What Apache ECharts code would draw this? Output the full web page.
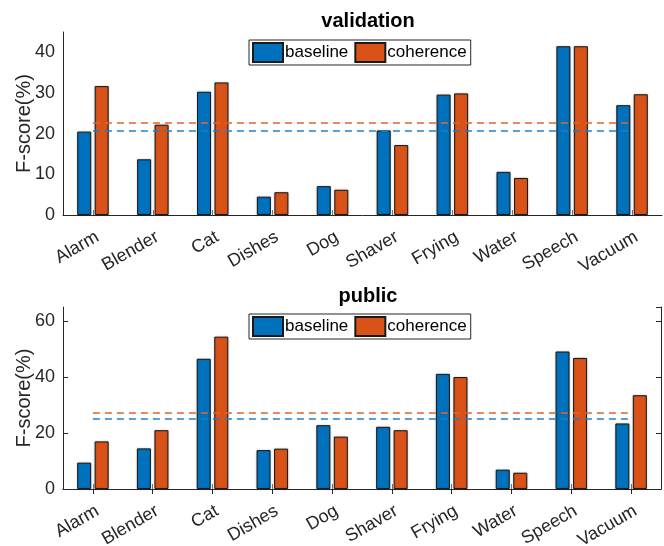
<!DOCTYPE html>
<html>
<head>
<meta charset="utf-8">
<script src="https://cdn.jsdelivr.net/npm/echarts@6/dist/echarts.min.js"></script>
<style>
  html, body { margin: 0; padding: 0; background: #fff; }
  #chart { width: 664px; height: 546px; }
</style>
</head>
<body>
<div id="chart"></div>
<script>
const CATEGORIES = ['Alarm', 'Blender', 'Cat', 'Dishes', 'Dog', 'Shaver', 'Frying', 'Water', 'Speech', 'Vacuum']
const SERIES_NAMES = ['baseline', 'coherence']

// validation panel
const VAL_BASELINE  = [20.5, 13.7, 30.3, 4.5, 7.1, 20.8, 29.6, 10.6, 41.5, 27.0]
const VAL_COHERENCE = [31.7, 22.2, 32.6, 5.6, 6.2, 17.2, 29.9, 9.1, 41.5, 29.7]
const VAL_MEAN      = [20.6, 22.6]   // dashed lines: baseline, coherence
const VAL_TICKS     = [0, 10, 20, 30, 40]

// public panel
const PUB_BASELINE  = [9.4, 14.5, 46.5, 13.9, 22.8, 22.2, 41.1, 6.9, 49.1, 23.4]
const PUB_COHERENCE = [17.0, 21.0, 54.4, 14.4, 18.7, 21.0, 40.0, 5.8, 46.8, 33.5]
const PUB_MEAN      = [25.1, 27.3]
const PUB_TICKS     = [0, 20, 40, 60]

const BLUE   = '#0072BD'
const ORANGE = '#D95319'
const INK    = '#262626'
const FONT   = '"Liberation Sans", Arial, sans-serif'

const chart = echarts.init(document.getElementById('chart'), null, { renderer: 'canvas' })

function barSeries(name, data, color, idx) {
  return {
    name, type: 'bar', data,
    xAxisIndex: idx === 0 ? 0 : 1, yAxisIndex: idx === 0 ? 0 : 1,
    barWidth: 14, barGap: '25%',
    itemStyle: { color, borderColor: '#1a1a1a', borderWidth: 1,
      shadowColor: 'rgba(0,0,0,0.25)', shadowBlur: 2 },
    animation: false,
  }
}

function meanSeries(value, color, idx) {
  return {
    type: 'line', data: [], z: 10,
    xAxisIndex: idx === 0 ? 0 : 1, yAxisIndex: idx === 0 ? 0 : 1,
    markLine: {
      silent: true, symbol: 'none', label: { show: false },
      lineStyle: { color, width: 1.6, type: [7, 5] },
      data: [[{ coord: [CATEGORIES[0], value] }, { coord: [CATEGORIES[CATEGORIES.length - 1], value] }]],
      animation: false,
    },
    animation: false,
  }
}

const catAxisBase = {
  type: 'category', data: CATEGORIES, boundaryGap: true,
  axisLine: { show: true, lineStyle: { color: INK, width: 1 } },
  axisTick: { show: true, inside: true, alignWithLabel: true, length: 5, lineStyle: { color: '#777' } },
  splitLine: { show: false },
}

const catLabel = {
  color: INK, fontSize: 18, fontFamily: FONT, rotate: 30, interval: 0,
  margin: 13, verticalAlign: 'top',
}
const valLabel = { color: INK, fontSize: 18, fontFamily: FONT, margin: 8, showMaxLabel: false }

function valAxis(gridIndex, max, interval, extra) {
  return Object.assign({
    type: 'value', gridIndex, min: 0, max, interval,
    name: 'F-score(%)', nameLocation: 'middle', nameGap: 29, nameMoveOverlap: false,
    nameTextStyle: { color: INK, fontSize: 20, fontFamily: FONT },
    axisLine: { show: true, lineStyle: { color: INK, width: 1 } },
    axisTick: { show: true, inside: true, length: 5, lineStyle: { color: INK } },
    axisLabel: valLabel,
    splitLine: { show: false },
  }, extra || {})
}

const legendBase = {
  orient: 'horizontal', icon: 'rect', itemWidth: 30, itemHeight: 19, itemGap: 6,
  borderColor: INK, borderWidth: 1, borderRadius: 0, backgroundColor: '#fff',
  padding: [2, 4, 2, 3],
  textStyle: { color: '#000', fontSize: 17, fontFamily: FONT, padding: [0, 0, 0, -3] },
  data: SERIES_NAMES,
}

const option = {
  backgroundColor: '#fff',
  animation: false,
  title: [
    { text: 'validation', left: 363, textAlign: 'center', top: 6,
      textStyle: { color: '#000', fontSize: 20, fontWeight: 'bold', fontFamily: FONT } },
    { text: 'public', left: 363, textAlign: 'center', top: 281,
      textStyle: { color: '#000', fontSize: 20, fontWeight: 'bold', fontFamily: FONT } },
  ],
  legend: [
    Object.assign({}, legendBase, { left: 249, top: 40 }),
    Object.assign({}, legendBase, { left: 249, top: 314 }),
  ],
  grid: [
    { left: 63, top: 32, width: 599, height: 183, outerBoundsMode: 'none' },
    { left: 63, top: 307, width: 598, height: 182, outerBoundsMode: 'none' },
  ],
  xAxis: [
    Object.assign({}, catAxisBase, { gridIndex: 0, position: 'bottom', axisLabel: catLabel }),
    Object.assign({}, catAxisBase, { gridIndex: 1, position: 'bottom', axisLabel: catLabel }),
    Object.assign({}, catAxisBase, { gridIndex: 1, position: 'top', axisLabel: { show: false },
      axisTick: { show: true, inside: true, alignWithLabel: true, length: 5, lineStyle: { color: INK } } }),
  ],
  yAxis: [
    valAxis(0, 45, 10, { axisTick: { show: false } }),
    valAxis(1, 65, 20),
    valAxis(1, 65, 20, { position: 'right', name: '', axisLabel: { show: false } }),
  ],
  series: [
    barSeries(SERIES_NAMES[0], VAL_BASELINE, BLUE, 0),
    barSeries(SERIES_NAMES[1], VAL_COHERENCE, ORANGE, 0),
    meanSeries(VAL_MEAN[0], '#1f7fc8', 0),
    meanSeries(VAL_MEAN[1], '#e2642a', 0),
    barSeries(SERIES_NAMES[0], PUB_BASELINE, BLUE, 1),
    barSeries(SERIES_NAMES[1], PUB_COHERENCE, ORANGE, 1),
    meanSeries(PUB_MEAN[0], '#1f7fc8', 1),
    meanSeries(PUB_MEAN[1], '#e2642a', 1),
  ],
}

chart.setOption(option)
</script>
</body>
</html>
